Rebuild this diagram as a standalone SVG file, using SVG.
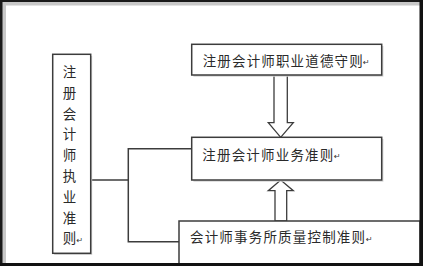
<svg xmlns="http://www.w3.org/2000/svg" width="423" height="266" viewBox="0 0 423 266">
  <style>
    .box { fill: #ffffff; stroke: #3c3c3c; stroke-width: 1.5; }
    .shadow { fill: #d4d4d4; }
    .txt { font-family: "Noto Sans CJK SC", "Noto Sans", sans-serif; font-size: 13.5px; fill: #2a2a2a; }
    .rm { font-family: "DejaVu Sans", sans-serif; font-size: 8px; fill: #333333; }
    .conn { fill: none; stroke: #3c3c3c; stroke-width: 1.5; }
    .arrow { fill: #ffffff; stroke: #3c3c3c; stroke-width: 1.3; stroke-linejoin: miter; }
  </style>
  <rect x="0" y="0" width="423" height="266" fill="#ffffff"/>
  <g id="frame">
    <rect x="2" y="2" width="4" height="262" fill="#c8c8c8"/>
    <rect x="2" y="2" width="418" height="3.5" fill="#c8c8c8"/>
    <rect x="0" y="0" width="2.5" height="266" fill="#1a1a1a"/>
    <rect x="0" y="0" width="423" height="2" fill="#1a1a1a"/>
  </g>
  <g id="connectors">
    <polyline class="conn" points="90.7,180 128.3,180"/>
    <polyline class="conn" points="191.7,148.7 128.3,148.7 128.3,241.7 179,241.7"/>
    <path class="arrow" d="M274,75 L287.3,75 L287.3,122.7 L293.3,122.7 L280.7,137.3 L268.3,122.7 L274,122.7 Z"/>
    <path class="arrow" d="M275,221 L286.7,221 L286.7,190.7 L293.3,190.7 L280.7,180 L268.3,190.7 L275,190.7 Z"/>
  </g>
  <g id="left">
    <rect class="shadow" x="54.2" y="56" width="38" height="199"/>
    <rect class="box" x="52.7" y="54.3" width="38" height="199"/>
    <g class="txt" text-anchor="middle">
      <text x="69.5" y="77">注</text>
      <text x="69.5" y="97.8">册</text>
      <text x="69.5" y="118.6">会</text>
      <text x="69.5" y="139.4">计</text>
      <text x="69.5" y="160.2">师</text>
      <text x="69.5" y="181">执</text>
      <text x="69.5" y="201.8">业</text>
      <text x="69.5" y="222.6">准</text>
      <text x="69.5" y="243.4">则</text>
    </g>
    <text class="rm" x="76.5" y="243">↵</text>
  </g>
  <g id="ethics">
    <rect class="shadow" x="193.4" y="46" width="190" height="30.7"/>
    <rect class="box" x="191.7" y="44.3" width="190" height="30.7"/>
    <text class="txt" x="202.7" y="65.5" textLength="160" lengthAdjust="spacing">注册会计师职业道德守则</text>
    <text class="rm" x="363" y="65">↵</text>
  </g>
  <g id="business">
    <rect class="shadow" x="193.4" y="139" width="190" height="42.7"/>
    <rect class="box" x="191.7" y="137.3" width="190" height="42.7"/>
    <text class="txt" x="202.3" y="159.5" textLength="131" lengthAdjust="spacing">注册会计师业务准则</text>
    <text class="rm" x="334" y="159">↵</text>
  </g>
  <g id="quality">
    <rect class="box" x="179" y="221" width="241" height="50"/>
    <text class="txt" x="190" y="242" textLength="175" lengthAdjust="spacing">会计师事务所质量控制准则</text>
    <text class="rm" x="366" y="241.5">↵</text>
  </g>
  <rect x="419.5" y="0" width="3.5" height="266" fill="#111111"/>
  <rect x="0" y="263" width="423" height="3" fill="#111111"/>
</svg>
